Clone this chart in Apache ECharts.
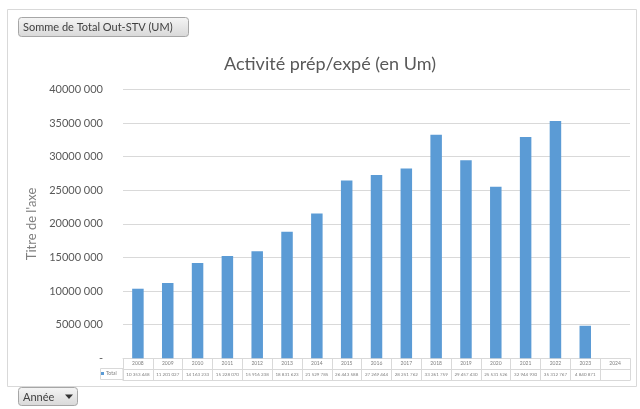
<!DOCTYPE html>
<html>
<head>
<meta charset="utf-8">
<script src="https://cdn.jsdelivr.net/npm/echarts@6/dist/echarts.min.js"></script>
<style>
html,body{margin:0;padding:0;background:#fff;}
#c{width:640px;height:409px;}
</style>
</head>
<body>
<div id="c"></div>
<script>
var years = ['2008','2009','2010','2011','2012','2013','2014','2015','2016','2017','2018','2019','2020','2021','2022','2023','2024'];
var totals = [10353448, 11201027, 14163233, 15228070, 15916238, 18831623, 21529785, 26443588, 27269444, 28251762, 33261759, 29457430, 25531526, 32944930, 35312767, 4840871, null];
var yTicks = [0, 5000000, 10000000, 15000000, 20000000, 25000000, 30000000, 35000000, 40000000];

function fmtThousands(v) {
  if (v === null || v === undefined) return '';
  return String(v).replace(/\B(?=(\d{3})+(?!\d))/g, ' ');
}
function fmtAxis(v) {
  if (v === 0) return '-';
  var k = Math.floor(v / 1000);
  var r = String(v % 1000);
  while (r.length < 3) r = '0' + r;
  return k + ' ' + r;
}
var valueLabels = totals.map(fmtThousands);
var FONT = 'Lato, "Open Sans", sans-serif';
var GRID = '#d9d9d9';
var TXT = '#595959';

var chart = echarts.init(document.getElementById('c'), null, {renderer: 'canvas'});
chart.setOption({
  animation: false,
  textStyle: {fontFamily: FONT},
  title: {
    text: 'Activité prép/expé (en Um)',
    left: 325, top: 50, textAlign: 'center',
    textStyle: {fontSize: 18, fontWeight: 'normal', color: TXT, fontFamily: FONT}
  },
  legend: {
    data: ['Total'], left: 101, top: 371, itemWidth: 3, itemHeight: 3, itemGap: 2,
    icon: 'rect', padding: 0,
    textStyle: {fontSize: 5, color: '#7f7f7f', padding: [0, 0, 0, -3]}
  },
  grid: {left: 123, right: 10, top: 89.5, bottom: 50.7},
  xAxis: [{
    type: 'category', data: years, position: 'bottom',
    axisLine: {show: true, lineStyle: {color: GRID, width: 1}},
    axisTick: {show: true, alignWithLabel: false, interval: 0, length: 22, lineStyle: {color: GRID}},
    axisLabel: {interval: 0, fontSize: 5, color: '#7f7f7f', margin: 3},
    splitLine: {show: false}
  }, {
    type: 'category', data: valueLabels, position: 'bottom', offset: 11,
    axisLine: {show: true, lineStyle: {color: GRID, width: 1}},
    axisTick: {show: false},
    axisLabel: {interval: 0, fontSize: 4.5, color: '#7f7f7f', margin: 3}
  }, {
    type: 'category', data: years, position: 'bottom', offset: 22,
    axisLine: {show: true, lineStyle: {color: GRID, width: 1}},
    axisTick: {show: false},
    axisLabel: {show: false}
  }],
  yAxis: {
    type: 'value', min: yTicks[0], max: yTicks[yTicks.length - 1], interval: yTicks[1] - yTicks[0],
    name: "Titre de l'axe", nameLocation: 'middle', nameGap: 84, nameRotate: 90,
    nameTextStyle: {fontSize: 13, color: '#7f7f7f', fontFamily: FONT},
    axisLine: {show: false}, axisTick: {show: false},
    axisLabel: {fontSize: 11, color: TXT, margin: 20, formatter: fmtAxis},
    splitLine: {lineStyle: {color: GRID, width: 1}}
  },
  series: [{
    name: 'Total', type: 'bar', data: totals, barWidth: 11.5,
    xAxisIndex: 0,
    itemStyle: {color: '#5b9bd5'}
  }],
  graphic: [
    {type: 'rect', shape: {x: 7.5, y: 9.5, width: 629, height: 377}, style: {fill: 'none', stroke: '#d9d9d9', lineWidth: 1}, silent: true, z: -10},
    {type: 'rect', shape: {x: 100.5, y: 368.5, width: 22.5, height: 11}, style: {fill: 'none', stroke: GRID, lineWidth: 1}, silent: true},
    {type: 'rect', shape: {x: 18.5, y: 17.5, width: 170, height: 19, r: 3},
     style: {fill: new echarts.graphic.LinearGradient(0, 0, 0, 1, [{offset: 0, color: '#f6f6f6'}, {offset: 1, color: '#d8d8d8'}]), stroke: '#a6a6a6', lineWidth: 1}},
    {type: 'text', x: 23, y: 27, style: {text: 'Somme de Total Out-STV (UM)', fontSize: 11, fill: '#404040', fontFamily: FONT, verticalAlign: 'middle'}},
    {type: 'rect', shape: {x: 18.5, y: 387.5, width: 59, height: 18, r: 3},
     style: {fill: new echarts.graphic.LinearGradient(0, 0, 0, 1, [{offset: 0, color: '#f6f6f6'}, {offset: 1, color: '#d8d8d8'}]), stroke: '#a6a6a6', lineWidth: 1}},
    {type: 'text', x: 23, y: 397, style: {text: 'Année', fontSize: 11, fill: '#404040', fontFamily: FONT, verticalAlign: 'middle'}},
    {type: 'polygon', shape: {points: [[65, 394.5], [73, 394.5], [69, 399]]}, style: {fill: '#333'}}
  ]
});
</script>
</body>
</html>
